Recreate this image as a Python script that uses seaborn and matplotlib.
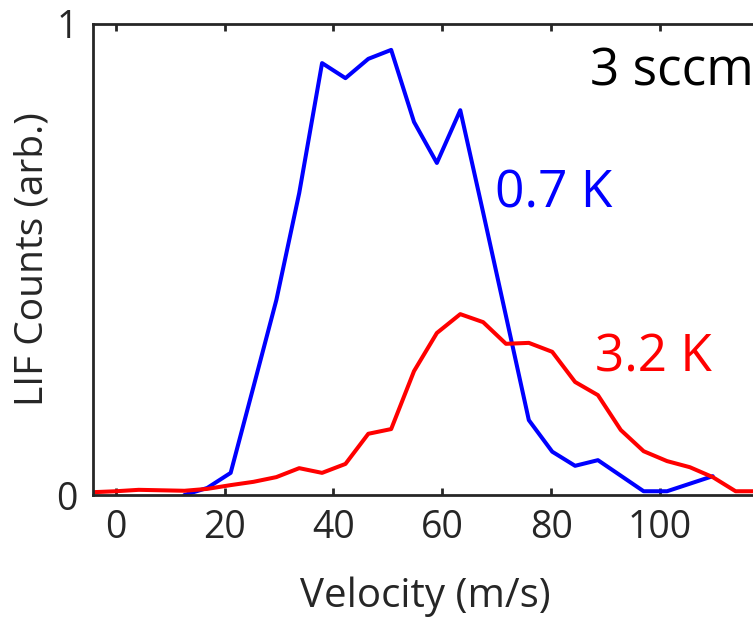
import matplotlib
matplotlib.use("Agg")
import matplotlib.pyplot as plt
import seaborn as sns
import pandas as pd

# ---- data ----
velocity = [-4.2, 0.0, 4.2, 8.4, 12.6, 16.8, 21.1, 25.3, 29.5, 33.7, 37.9, 42.2, 46.4,
            50.6, 54.8, 59.0, 63.3, 67.5, 71.7, 75.9, 80.2, 84.4, 88.6, 92.8, 97.0,
            101.3, 105.5, 109.7, 113.9, 118.1]

velocity_cold = velocity[4:28]
counts_cold = [0.0, 0.015, 0.047, 0.23, 0.414, 0.641, 0.917, 0.885, 0.926, 0.945,
               0.792, 0.705, 0.817, 0.60, 0.38, 0.159, 0.092, 0.062, 0.074, 0.041,
               0.008, 0.008, 0.024, 0.040]

velocity_warm = velocity
counts_warm = [0.006, 0.008, 0.011, 0.010, 0.009, 0.013, 0.021, 0.028, 0.038, 0.057,
               0.047, 0.066, 0.130, 0.140, 0.263, 0.344, 0.384, 0.367, 0.321, 0.323,
               0.304, 0.240, 0.212, 0.138, 0.093, 0.072, 0.059, 0.038, 0.008, 0.008]

series_names = ["0.7 K", "3.2 K"]
series_colors = ["#0000ff", "#ff0000"]
x_ticks = [0, 20, 40, 60, 80, 100]
y_ticks = [0, 1]
y_tick_labels = ["0", "1"]

df = pd.concat([
    pd.DataFrame({"Velocity": velocity_cold, "Counts": counts_cold, "Temp": series_names[0]}),
    pd.DataFrame({"Velocity": velocity_warm, "Counts": counts_warm, "Temp": series_names[1]}),
])

sns.set_theme(style="ticks")
plt.rcParams["font.family"] = ["Open Sans", "DejaVu Sans"]

fig = plt.figure(figsize=(7.53, 6.20), dpi=100)
ax = fig.add_axes([0.1235, 0.2016, 0.8765, 0.7597])

sns.lineplot(data=df, x="Velocity", y="Counts", hue="Temp", hue_order=series_names,
             palette=series_colors, linewidth=2.9, legend=False, ax=ax, sort=False)

ax.set_xlim(-4.2, 117.1)
ax.set_ylim(0, 1)
ax.set_xticks(x_ticks)
ax.set_yticks(y_ticks)
ax.set_yticklabels(y_tick_labels)

spine_color = "#262626"
for s in ["left", "top", "bottom"]:
    ax.spines[s].set_visible(True)
    ax.spines[s].set_color(spine_color)
    ax.spines[s].set_linewidth(2.0)
ax.spines["right"].set_visible(False)

ax.tick_params(axis="x", which="both", direction="in", length=5, width=2.0,
               color=spine_color, top=True, bottom=True, labelsize=27,
               labelcolor="#262626", pad=10)
ax.tick_params(axis="y", which="both", direction="in", length=0, width=2.0,
               color=spine_color, labelsize=27, labelcolor="#262626", pad=11)

ax.set_xlabel("Velocity (m/s)", fontsize=29, color="#262626", va="baseline")
ax.xaxis.set_label_coords(0.503, -0.238)
ax.set_ylabel("LIF Counts (arb.)", fontsize=28, color="#262626", va="baseline")
ax.yaxis.set_label_coords(-0.0758, 0.5)

ax.text(87.1, 0.87, "3 sccm", fontsize=37, color="black", ha="left", va="baseline")
ax.text(69.7, 0.611, series_names[0], fontsize=37, color=series_colors[0], ha="left", va="baseline")
ax.text(88.0, 0.263, series_names[1], fontsize=37, color=series_colors[1], ha="left", va="baseline")

fig.savefig("out.png", dpi=100)
